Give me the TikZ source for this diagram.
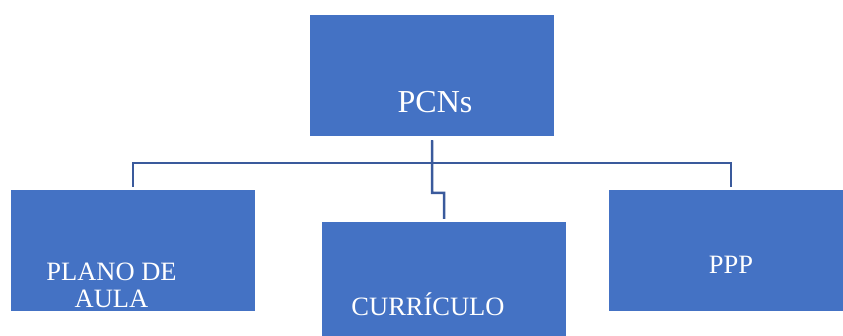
\documentclass[tikz,border=0pt]{standalone}
\usepackage{fontspec}
\setmainfont{Liberation Serif}
\definecolor{boxblue}{HTML}{4472C4}
\definecolor{linkblue}{HTML}{3A5A9C}

\begin{document}
\begin{tikzpicture}[x=1pt, y=-1pt,
    box/.style={rectangle, fill=boxblue, draw=none, minimum width=244pt,
    minimum height=121pt, inner sep=0pt, anchor=north west},
    boxtext/.style={text=white, inner sep=0pt, anchor=base, align=center,
    font=\fontsize{26.5}{27.3}\selectfont},
    link/.style={draw=linkblue, line width=2.5pt}]

    \clip (0,0) rectangle (843,336);

    \node[box] (pcns) at (310,15) {};
    \node[box] (plano) at (11,190) {};
    \node[box] (curr) at (322,222) {};
    \node[box] (ppp) at (609,190) {};

    \node[boxtext, font=\fontsize{32}{34}\selectfont] (pcnslabel) at (435,113) {PCNs};
    \node[boxtext] (planolabel) at (111.5,308) {PLANO DE\\AULA};
    \node[boxtext] (currlabel) at (428,316) {CURRÍCULO};
    \node[boxtext] (ppplabel) at (731,274) {PPP};

    % bus and jog of the connectors
    \coordinate (bus) at (432,163);
    \coordinate (jog) at (432,193);

    \draw[link] ([yshift=-4pt]pcns.south) -- (pcns.south |- bus) -| ([yshift=3pt]plano.north);
    \draw[link] ([yshift=-4pt]pcns.south) -- (pcns.south |- bus) -| ([yshift=3pt]ppp.north);
    \draw[link] ([yshift=-4pt]pcns.south) -- (jog) -| ([yshift=3pt]curr.north);
\end{tikzpicture}
\end{document}
